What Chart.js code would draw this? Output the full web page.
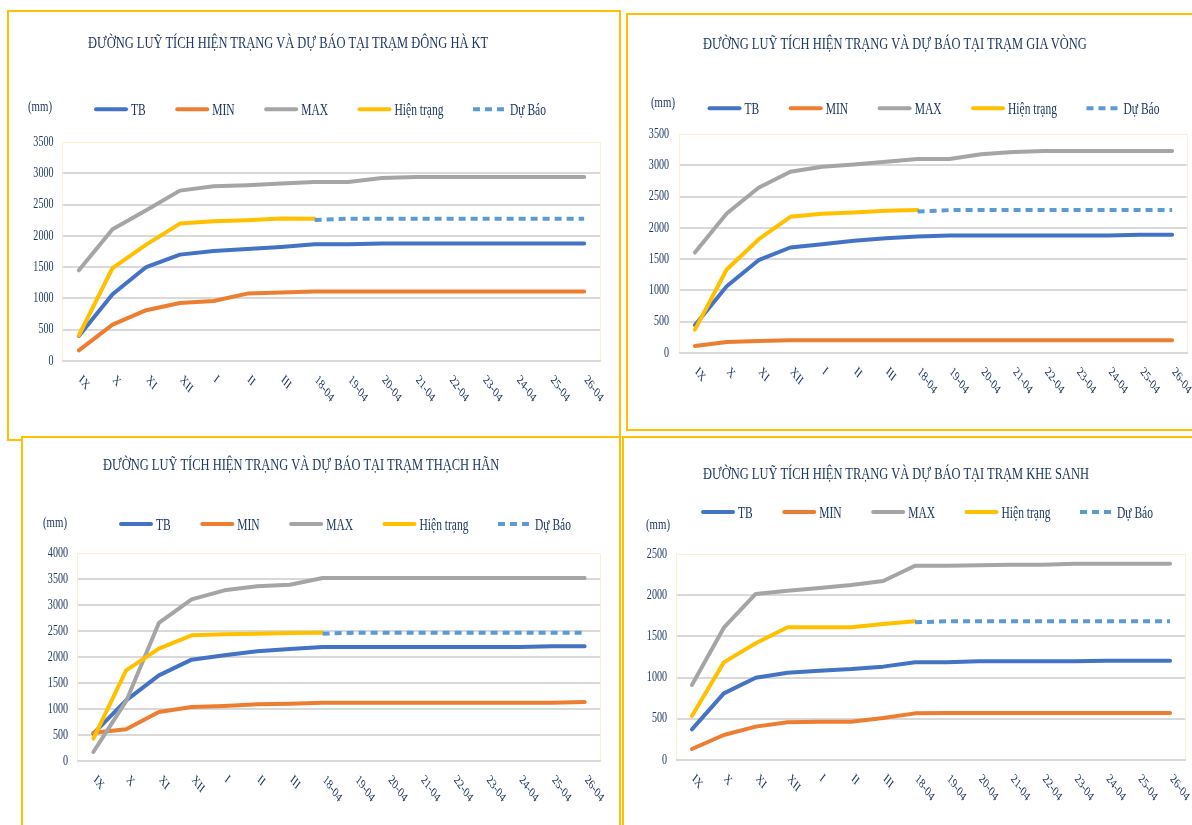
<!DOCTYPE html>
<html lang="vi">
<head>
<meta charset="utf-8">
<script src="https://cdn.jsdelivr.net/npm/chart.js@4.4.1/dist/chart.umd.min.js"></script>
<style>
  html,body{margin:0;padding:0;background:#fff;}
  body{width:1192px;height:825px;overflow:hidden;position:relative;font-family:"Liberation Serif",serif;}
  .panel{position:absolute;box-sizing:border-box;border:2px solid #FFC000;background:#fff;}
  .panel canvas{position:absolute;left:0;top:0;}
  .ttl{position:absolute;white-space:nowrap;color:#1F3864;font-size:16px;line-height:18px;transform:scaleX(0.78);transform-origin:left center;}
  .unit{position:absolute;white-space:nowrap;color:#1F3864;font-size:15px;line-height:16px;transform:scaleX(0.72);transform-origin:left center;}
</style>
</head>
<body>

<div class="panel" style="left:7px;top:10px;width:614px;height:431px;">
  <canvas id="c1" width="610" height="427"></canvas>
  <div class="ttl" style="left:79px;top:22px;">ĐƯỜNG LUỸ TÍCH HIỆN TRẠNG VÀ DỰ BÁO TẠI TRẠM ĐÔNG HÀ KT</div>
  <div class="unit" style="left:19px;top:86px;">(mm)</div>
</div>

<div class="panel" style="left:626px;top:13px;width:570px;height:418px;">
  <canvas id="c2" width="564" height="414"></canvas>
  <div class="ttl" style="left:75px;top:20px;">ĐƯỜNG LUỸ TÍCH HIỆN TRẠNG VÀ DỰ BÁO TẠI TRẠM GIA VÒNG</div>
  <div class="unit" style="left:23px;top:79px;">(mm)</div>
</div>

<div class="panel" style="left:21px;top:436px;width:600px;height:400px;">
  <canvas id="c3" width="596" height="387"></canvas>
  <div class="ttl" style="left:80px;top:18px;">ĐƯỜNG LUỸ TÍCH HIỆN TRẠNG VÀ DỰ BÁO TẠI TRẠM THẠCH HÃN</div>
  <div class="unit" style="left:20px;top:76px;">(mm)</div>
</div>

<div class="panel" style="left:622px;top:436px;width:580px;height:400px;">
  <canvas id="c4" width="568" height="387"></canvas>
  <div class="ttl" style="left:79px;top:27px;">ĐƯỜNG LUỸ TÍCH HIỆN TRẠNG VÀ DỰ BÁO TẠI TRẠM KHE SANH</div>
  <div class="unit" style="left:22px;top:78px;">(mm)</div>
</div>

<script>
const categories = ['IX','X','XI','XII','I','II','III','18-04','19-04','20-04','21-04','22-04','23-04','24-04','25-04','26-04'];

// Đông Hà KT
const dhTB  = [400,1066,1502,1700,1758,1790,1822,1865,1865,1876,1876,1876,1876,1876,1876,1876];
const dhMIN = [171,582,812,927,959,1077,1093,1109,1110,1110,1110,1110,1110,1110,1110,1110];
const dhMAX = [1450,2105,2408,2723,2792,2808,2835,2861,2861,2925,2941,2941,2941,2941,2941,2941];
const dhHT  = [410,1486,1860,2196,2233,2249,2276,2275,null,null,null,null,null,null,null,null];
const dhDB  = [null,null,null,null,null,null,null,2255,2275,2275,2275,2275,2275,2275,2275,2275];

// Gia Vòng
const gvTB  = [443,1067,1483,1686,1739,1793,1835,1862,1878,1878,1878,1878,1878,1878,1889,1889];
const gvMIN = [112,176,192,203,203,203,203,203,203,203,203,203,203,203,203,203];
const gvMAX = [1606,2230,2641,2897,2977,3014,3057,3100,3100,3175,3212,3228,3228,3228,3228,3228];
const gvHT  = [373,1334,1814,2177,2225,2246,2273,2284,null,null,null,null,null,null,null,null];
const gvDB  = [null,null,null,null,null,null,null,2262,2284,2284,2284,2284,2284,2284,2284,2284];

// Thạch Hãn
const thTB  = [525,1167,1647,1949,2032,2109,2154,2192,2192,2192,2192,2192,2192,2192,2205,2205];
const thMIN = [545,609,942,1038,1058,1090,1103,1122,1122,1122,1122,1122,1122,1122,1122,1135];
const thMAX = [173,1150,2654,3109,3282,3359,3391,3520,3520,3520,3520,3520,3520,3520,3520,3520];
const thHT  = [429,1744,2160,2417,2436,2449,2462,2468,null,null,null,null,null,null,null,null];
const thDB  = [null,null,null,null,null,null,null,2449,2468,2468,2468,2468,2468,2468,2468,2468];

// Khe Sanh
const ksTB  = [372,809,999,1060,1084,1104,1133,1185,1185,1197,1197,1197,1197,1206,1206,1206];
const ksMIN = [133,303,405,457,465,465,510,566,570,570,570,570,570,570,570,570];
const ksMAX = [910,1606,2015,2055,2087,2124,2172,2358,2358,2362,2371,2371,2383,2383,2383,2383];
const ksHT  = [534,1185,1416,1610,1610,1610,1650,1683,null,null,null,null,null,null,null,null];
const ksDB  = [null,null,null,null,null,null,null,1671,1683,1683,1683,1683,1683,1683,1683,1683];

const NAVY = '#1F3864';
const FONT = '"Liberation Serif", serif';
const SQ = 0.72;   // text in the picture is squeezed sideways
Chart.defaults.font.family = FONT;

// legend row: line sample + label, centred on a given point
const lineLegend = {
  id: 'lineLegend',
  afterDraw(chart, args, o) {
    const ctx = chart.ctx, sets = chart.data.datasets;
    const sw = 34, gap = 3, sep = 29.5;
    ctx.save();
    ctx.font = '16px ' + FONT;
    const widths = sets.map(d => sw + gap + ctx.measureText(d.label).width * SQ);
    const total = widths.reduce((a, b) => a + b, 0) + sep * (sets.length - 1);
    let x = o.x - total / 2;
    sets.forEach((d, i) => {
      const inset = d.borderCapStyle === 'round' ? 2 : 0;
      ctx.strokeStyle = d.borderColor;
      ctx.lineWidth = d.borderWidth;
      ctx.lineCap = d.borderCapStyle;
      ctx.setLineDash(d.borderDash || []);
      ctx.beginPath();
      ctx.moveTo(x + inset, o.y);
      ctx.lineTo(x + sw - inset, o.y);
      ctx.stroke();
      ctx.setLineDash([]);
      ctx.save();
      ctx.translate(x + sw + gap, o.y + 1.5);
      ctx.scale(SQ, 1);
      ctx.fillStyle = NAVY;
      ctx.textAlign = 'left';
      ctx.textBaseline = 'middle';
      ctx.fillText(d.label, 0, 0);
      ctx.restore();
      x += widths[i] + sep;
    });
    ctx.restore();
  }
};

// axis labels (x slanted down-right), squeezed like the picture
const axisLabels = {
  id: 'axisLabels',
  afterDraw(chart, args, o) {
    const ctx = chart.ctx, ca = chart.chartArea;
    const sx = chart.scales.x, sy = chart.scales.y;
    ctx.save();
    ctx.fillStyle = NAVY;
    ctx.font = '14px ' + FONT;
    ctx.textAlign = 'right';
    ctx.textBaseline = 'middle';
    sy.ticks.forEach(t => {
      ctx.save();
      ctx.translate(ca.left - o.pad, sy.getPixelForValue(t.value));
      ctx.scale(SQ, 1);
      ctx.fillText(String(t.value), 0, 0);
      ctx.restore();
    });
    ctx.font = '13.5px ' + FONT;
    ctx.textAlign = 'left';
    ctx.textBaseline = 'top';
    chart.data.labels.forEach((lab, i) => {
      ctx.save();
      ctx.translate(sx.getPixelForTick(i) + 5, ca.bottom + 12);
      ctx.scale(SQ, 1);
      ctx.rotate(Math.PI / 4);
      ctx.fillText(lab, 0, 0);
      ctx.restore();
    });
    ctx.restore();
  }
};

const plotFrame = {
  id: 'plotFrame',
  beforeDatasetsDraw(chart) {
    const {left, top, right, bottom} = chart.chartArea, ctx = chart.ctx;
    ctx.save();
    ctx.strokeStyle = '#FBEFCF';
    ctx.lineWidth = 1;
    ctx.beginPath();
    ctx.moveTo(left + 0.5, bottom - 1);
    ctx.lineTo(left + 0.5, top + 0.5);
    ctx.lineTo(right - 0.5, top + 0.5);
    ctx.lineTo(right - 0.5, bottom - 1);
    ctx.stroke();
    ctx.restore();
  }
};

function line(label, data, color, order, extra) {
  return Object.assign({
    label, data, order,
    borderColor: color, backgroundColor: color,
    borderWidth: 4, pointRadius: 0, pointHoverRadius: 0,
    tension: 0, borderCapStyle: 'round', borderJoinStyle: 'round', fill: false
  }, extra || {});
}

function drawPanel(id, s) {
  const cv = document.getElementById(id);
  const cw = cv.width, ch = cv.height;
  new Chart(cv, {
    type: 'line',
    data: {
      labels: categories,
      datasets: [
        line('TB', s.tb, '#4472C4', 5),
        line('MIN', s.min, '#ED7D31', 4),
        line('MAX', s.max, '#A5A5A5', 3),
        line('Hiện trạng', s.ht, '#FFC000', 2),
        line('Dự Báo', s.db, '#5B9BD5', 1, {borderDash: [7, 5], borderCapStyle: 'butt'})
      ]
    },
    options: {
      responsive: false,
      animation: false,
      devicePixelRatio: 1,
      layout: {
        padding: {left: s.plot.l - 40, top: s.plot.t, right: cw - s.plot.r, bottom: ch - s.plot.b - 50}
      },
      scales: {
        x: {
          type: 'category',
          offset: true,
          grid: {display: false},
          border: {display: false},
          ticks: {display: false},
          afterFit(sc) { sc.height = 50; }
        },
        y: {
          min: 0,
          max: s.yMax,
          border: {display: false},
          grid: {
            drawTicks: false,
            lineWidth: 2,
            color: c => (c.tick && c.tick.value === s.yMax) ? 'rgba(0,0,0,0)' : '#D9D9D9'
          },
          ticks: {stepSize: 500, display: false},
          afterFit(sc) { sc.width = 40; }
        }
      },
      plugins: {
        title: {display: false},
        tooltip: {enabled: false},
        legend: {display: false},
        lineLegend: {x: s.legend.x, y: s.legend.y},
        axisLabels: {pad: s.tickPad}
      }
    },
    plugins: [plotFrame, axisLabels, lineLegend]
  });
}

drawPanel('c1', {tb: dhTB, min: dhMIN, max: dhMAX, ht: dhHT, db: dhDB, yMax: 3500,
  plot: {l: 53, t: 130, r: 592, b: 349}, legend: {x: 311, y: 97.3}, tickPad: 8.5});
drawPanel('c2', {tb: gvTB, min: gvMIN, max: gvMAX, ht: gvHT, db: gvDB, yMax: 3500,
  plot: {l: 51, t: 119, r: 560, b: 338}, legend: {x: 305.5, y: 93.3}, tickPad: 10});
drawPanel('c3', {tb: thTB, min: thMIN, max: thMAX, ht: thHT, db: thDB, yMax: 4000,
  plot: {l: 54, t: 115, r: 578, b: 323}, legend: {x: 322, y: 86}, tickPad: 9});
drawPanel('c4', {tb: ksTB, min: ksMIN, max: ksMAX, ht: ksHT, db: ksDB, yMax: 2500,
  plot: {l: 52, t: 116, r: 562, b: 322}, legend: {x: 303, y: 74}, tickPad: 9});
</script>
</body>
</html>
